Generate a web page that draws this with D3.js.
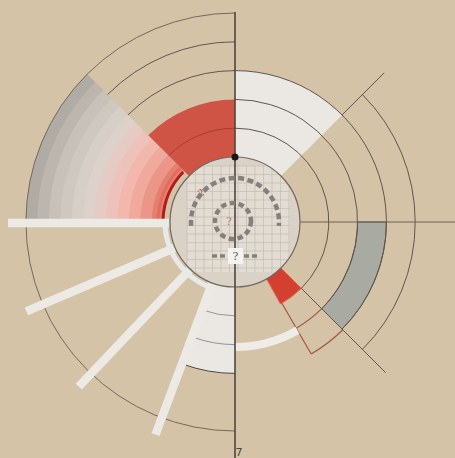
<!DOCTYPE html>
<html><head><meta charset="utf-8">
<script src="https://cdn.jsdelivr.net/npm/d3@7"></script>
<style>html,body{margin:0;padding:0;background:#d4c3a7;overflow:hidden}svg{display:block}</style>
</head><body><svg id="c" width="455" height="458"></svg>
<script>
// ---- data ----
const ringLevels = [0, 1, 2, 3, 4, 5];
const ringRadii = [65, 94, 123, 152, 181, 209];
// gradient band shades, inner -> outer
const bandShades = ["#e4806f","#eb9688","#f0a99d","#f2b7ad","#edc2ba","#e5cbc4","#ddd1cb","#d6cfc8","#cfc8c1","#c7c1ba","#bcb6af","#b1aba5"];
const bandAngles = [270, 315];
const sectorNames = ["red", "whiteTop", "whiteBottom", "gray", "redSmall"];
const sectorStart = [315, 0, 180, 90, 135];
const sectorEnd   = [360, 45, 200, 135, 151];
const sectorInner = [0, 0, 0, 2, 0];
const sectorOuter = [2, 3, 3, 3, 1];
const sectorFill  = ["#cf5445", "#ebe7e2", "#ebe8e4", "#a9aaa2", "#d3402f"];
const barAngles = [200.5, 223.5, 246.8, 270];
const barLength = [66, 227];
const questionLabels = ["?", "?", "?"];
const bottomLabel = "7";

// ---- setup ----
const W = 455, H = 458, cx = 235, cy = 222;
const svg = d3.select("#c");
svg.append("rect").attr("width", W).attr("height", H).attr("fill", "#d4c3a7");
const g = svg.append("g").attr("transform", `translate(${cx},${cy})`);
const rScale = d3.scaleLinear().domain([0, 5]).range([ringRadii[0], ringRadii[5]]);
const aScale = d3.scaleLinear().domain([0, 360]).range([0, 2 * Math.PI]);
const arc = d3.arc();
function arcLine(r, a0, a1) {
  const p = d3.path();
  p.arc(0, 0, r, aScale(a0) - Math.PI / 2, aScale(a1) - Math.PI / 2, a1 < a0);
  return p.toString();
}
function polar(r, a) { const t = aScale(a) - Math.PI / 2; return [r * Math.cos(t), r * Math.sin(t)]; }
const lineCol = "#5f564e";

// gradient band
const bandScale = d3.scaleLinear().domain([0, bandShades.length]).range([72, ringRadii[5]]);
g.selectAll("path.band").data(bandShades).join("path")
  .attr("d", (d, i) => arc({innerRadius: bandScale(i), outerRadius: bandScale(i + 1) + 0.3, startAngle: aScale(bandAngles[0]), endAngle: aScale(bandAngles[1])}))
  .attr("fill", d => d);

// sectors
g.selectAll("path.sector").data(sectorNames).join("path")
  .attr("d", (d, i) => arc({innerRadius: rScale(sectorInner[i]), outerRadius: rScale(sectorOuter[i]), startAngle: aScale(sectorStart[i]), endAngle: aScale(sectorEnd[i])}))
  .attr("fill", (d, i) => sectorFill[i])
  .attr("stroke", (d, i) => d === "gray" ? lineCol : (d === "redSmall" ? "#e06a58" : "none"))
  .attr("stroke-width", 1);

// red accents near inner circle
g.append("path").attr("d", arcLine(77, 270, 315)).attr("fill", "none").attr("stroke", "#e66a60").attr("stroke-width", 3);
g.append("path").attr("d", arcLine(72, 272, 314)).attr("fill", "none").attr("stroke", "#b21c1c").attr("stroke-width", 3);
// inner red line in the red sector
g.append("path").attr("d", arcLine(rScale(1), 315, 360)).attr("fill", "none").attr("stroke", "#a83b31").attr("stroke-width", 1);

// ring arc lines
const arcSpecs = [
  [1, 0, 135, lineCol], [2, 0, 135, lineCol], [3, 0, 135, lineCol], [4, 45, 135, lineCol],
  [3, 315, 360, lineCol], [4, 315, 360, lineCol], [5, 180, 360, "#75695f"],
  [1, 180, 200, "#9a9590"], [2, 180, 200, "#8b94a0"], [3, 180, 200, "#4f4842"]
];
g.selectAll("path.ring").data(arcSpecs).join("path")
  .attr("d", d => arcLine(rScale(d[0]), d[1], d[2]))
  .attr("fill", "none").attr("stroke", d => d[3]).attr("stroke-width", 1);

// reddish outline sector
const outlineCol = "#a65545";
g.append("path").attr("d", arcLine(rScale(2), 135, 150)).attr("fill", "none").attr("stroke", outlineCol).attr("stroke-width", 1.2);
g.append("path").attr("d", arcLine(rScale(3) + 1, 135, 150)).attr("fill", "none").attr("stroke", outlineCol).attr("stroke-width", 1.2);
g.append("line").attr("x1", polar(rScale(1), 150)[0]).attr("y1", polar(rScale(1), 150)[1])
  .attr("x2", polar(rScale(3) + 1, 150)[0]).attr("y2", polar(rScale(3) + 1, 150)[1]).attr("stroke", outlineCol).attr("stroke-width", 1.2);

// radial lines
const radialSpecs = [[45, 3, 211], [135, 1, 213]];
g.selectAll("line.rad").data(radialSpecs).join("line")
  .attr("x1", d => polar(rScale(d[1]), d[0])[0]).attr("y1", d => polar(rScale(d[1]), d[0])[1])
  .attr("x2", d => polar(d[2], d[0])[0]).attr("y2", d => polar(d[2], d[0])[1])
  .attr("stroke", lineCol).attr("stroke-width", 1);
// horizontal right line
g.append("line").attr("x1", rScale(0)).attr("y1", 0).attr("x2", W - cx).attr("y2", 0).attr("stroke", "#6a6158").attr("stroke-width", 1);

// white thick arc
g.append("path").attr("d", arcLine(125, 150, 180)).attr("fill", "none").attr("stroke", "#efece8").attr("stroke-width", 8);

// bars
g.selectAll("line.bar").data(barAngles).join("line")
  .attr("x1", d => polar(barLength[0], d)[0]).attr("y1", d => polar(barLength[0], d)[1] + (d === 270 ? 1 : 0))
  .attr("x2", d => polar(barLength[1], d)[0]).attr("y2", d => polar(barLength[1], d)[1] + (d === 270 ? 1 : 0))
  .attr("stroke", "#edeae6").attr("stroke-width", 8.5);

// light ring around inner circle (lower-left)
g.append("path").attr("d", arcLine(70, 198, 272)).attr("fill", "none").attr("stroke", "#e8eae9").attr("stroke-width", 5);

// inner circle
g.append("circle").attr("r", rScale(0)).attr("fill", "#dad2c7");
svg.append("clipPath").attr("id", "cc").append("circle").attr("cx", cx).attr("cy", cy).attr("r", rScale(0) - 1);
const grid = svg.append("g").attr("clip-path", "url(#cc)");
const gx0 = 187, gx1 = 290, gy0 = 166, gy1 = 272, step = 8.5;
grid.append("rect").attr("x", gx0).attr("y", gy0).attr("width", gx1 - gx0).attr("height", gy1 - gy0).attr("fill", "#e2dcd3");
grid.selectAll("line.gv").data(d3.range(gx0, gx1 + 0.1, step)).join("line")
  .attr("x1", d => d).attr("x2", d => d).attr("y1", gy0).attr("y2", gy1).attr("stroke", "#c3bcb3").attr("stroke-width", 0.7);
grid.selectAll("line.gh").data(d3.range(gy0, gy1 + 0.1, step)).join("line")
  .attr("y1", d => d).attr("y2", d => d).attr("x1", gx0).attr("x2", gx1).attr("stroke", "#c3bcb3").attr("stroke-width", 0.7);

const overlay = svg.append("g").attr("transform", `translate(${cx},${cy})`);
overlay.append("circle").attr("r", rScale(0)).attr("fill", "none").attr("stroke", "#6e6862").attr("stroke-width", 1.2);

// vertical axis line
svg.append("line").attr("x1", cx).attr("x2", cx).attr("y1", 12).attr("y2", H).attr("stroke", "#4d4640").attr("stroke-width", 1.6);

// dashed arcs
const dashCol = "#84817d";
const dash = svg.append("g").attr("transform", `translate(${cx},${cy})`);
dash.append("path").attr("d", arcLine(44, -95, 95)).attr("fill", "none").attr("stroke", dashCol).attr("stroke-width", 4.5).attr("stroke-dasharray", "6,3.5");
dash.append("circle").attr("cx", -2).attr("cy", -1).attr("r", 18).attr("fill", "none").attr("stroke", dashCol).attr("stroke-width", 4.5).attr("stroke-dasharray", "5.5,3.5");
svg.append("line").attr("x1", 212).attr("x2", 260).attr("y1", 256).attr("y2", 256).attr("stroke", dashCol).attr("stroke-width", 3.5).attr("stroke-dasharray", "5,3");

// dot on axis
svg.append("circle").attr("cx", cx).attr("cy", cy - rScale(0)).attr("r", 3.5).attr("fill", "#1a1716");

// labels
svg.append("text").attr("x", 229).attr("y", 225).attr("text-anchor", "middle").attr("font-family", "DejaVu Serif").attr("font-size", 11).attr("fill", "#b98080").text(questionLabels[0]);
svg.append("text").attr("transform", "translate(204,195) rotate(-45)").attr("text-anchor", "middle").attr("font-family", "DejaVu Serif").attr("font-size", 10).attr("fill", "#c05555").text(questionLabels[1]);
svg.append("rect").attr("x", 228).attr("y", 248).attr("width", 15).attr("height", 16).attr("fill", "#f5f3ef");
svg.append("text").attr("x", 235.5).attr("y", 260).attr("text-anchor", "middle").attr("font-family", "DejaVu Serif").attr("font-size", 11).attr("fill", "#555").text(questionLabels[2]);
svg.append("text").attr("x", 239).attr("y", 456).attr("text-anchor", "middle").attr("font-family", "DejaVu Sans").attr("font-size", 11).attr("fill", "#4a4540").text(bottomLabel);
</script></body></html>
